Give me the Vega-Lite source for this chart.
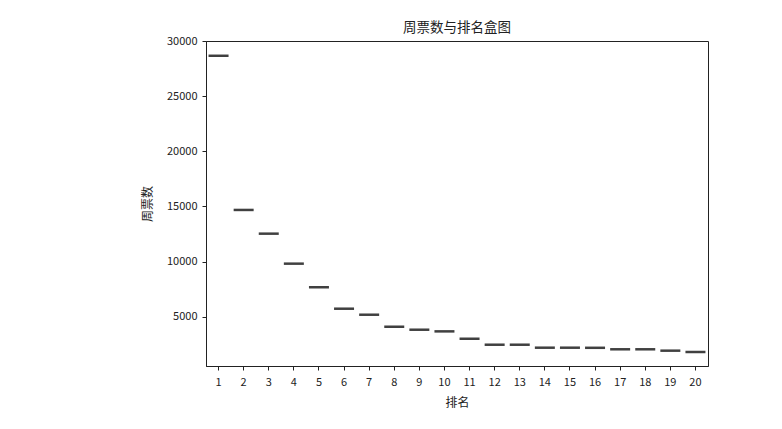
{
  "$schema": "https://vega.github.io/schema/vega-lite/v6.json",
  "autosize": "none",
  "padding": {"left": 206, "top": 41, "right": 74, "bottom": 63},
  "width": 502,
  "height": 325,
  "background": "white",
  "title": {"text": "周票数与排名盒图", "font": "Noto Sans CJK SC", "fontSize": 13.5, "fontWeight": "normal", "color": "#222", "offset": 1},
  "config": {
    "view": {"stroke": "#222", "strokeWidth": 1},
    "axis": {"labelFont": "Noto Sans CJK SC", "titleFont": "Noto Sans CJK SC", "labelFontSize": 11, "titleFontSize": 12, "titleFontWeight": "normal", "labelColor": "#222", "titleColor": "#222", "domainColor": "#222", "tickColor": "#222", "tickSize": 4, "grid": false}
  },
  "data": {"values": [
    {"rank": 1, "votes": 28660},
    {"rank": 2, "votes": 14680},
    {"rank": 3, "votes": 12530},
    {"rank": 4, "votes": 9810},
    {"rank": 5, "votes": 7670},
    {"rank": 6, "votes": 5725},
    {"rank": 7, "votes": 5180},
    {"rank": 8, "votes": 4090},
    {"rank": 9, "votes": 3820},
    {"rank": 10, "votes": 3670},
    {"rank": 11, "votes": 3005},
    {"rank": 12, "votes": 2460},
    {"rank": 13, "votes": 2460},
    {"rank": 14, "votes": 2190},
    {"rank": 15, "votes": 2190},
    {"rank": 16, "votes": 2180},
    {"rank": 17, "votes": 2045},
    {"rank": 18, "votes": 2045},
    {"rank": 19, "votes": 1920},
    {"rank": 20, "votes": 1800}
  ]},
  "mark": {"type": "tick", "size": 20, "thickness": 2.5, "color": "#404040", "opacity": 1},
  "encoding": {
    "x": {"field": "rank", "type": "ordinal", "title": "排名",
      "scale": {"paddingInner": 0, "paddingOuter": 0},
      "axis": {"labelAngle": 0, "labelPadding": 6, "titlePadding": 10}},
    "y": {"field": "votes", "type": "quantitative", "title": "周票数",
      "scale": {"domain": [530, 30000], "nice": false, "zero": false},
      "axis": {"values": [5000, 10000, 15000, 20000, 25000, 30000], "format": "d", "labelPadding": 5, "titlePadding": 12}}
  }
}
